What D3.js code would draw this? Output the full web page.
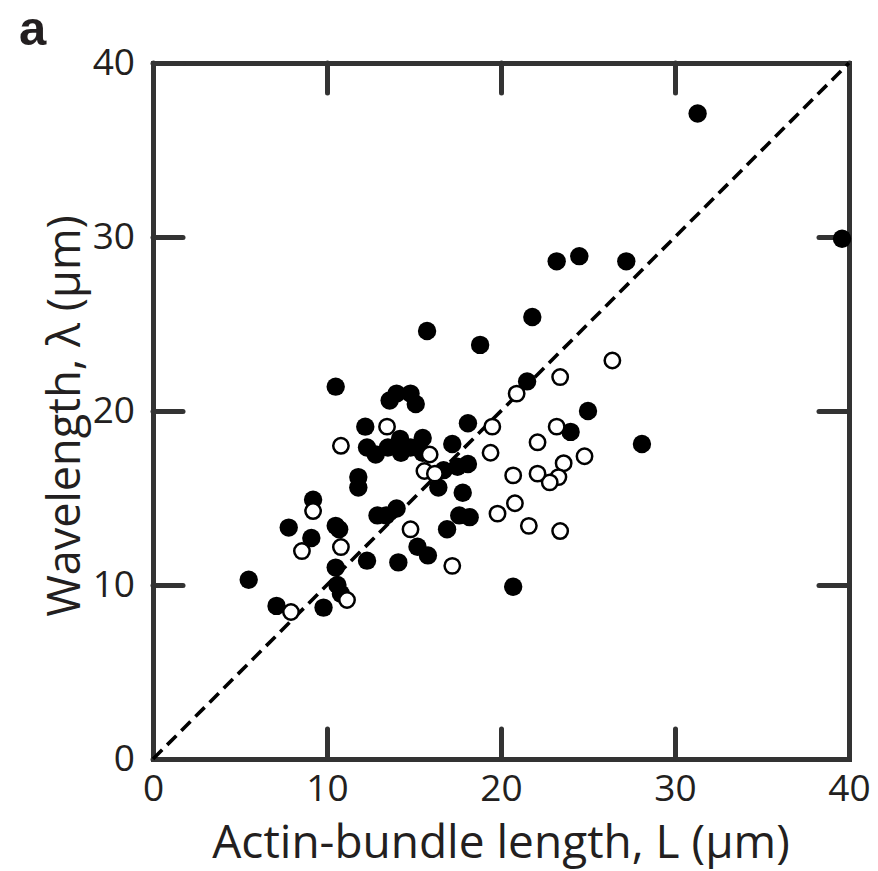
<!DOCTYPE html>
<html>
<head>
<meta charset="utf-8">
<script src="https://cdn.jsdelivr.net/npm/d3@7"></script>
<style>
  html, body { margin: 0; padding: 0; background: #fff; }
  svg { display: block; }
</style>
</head>
<body>
<div id="chart"></div>
<script>
// ---- Data ----
const panelLabel = "a";
const xTitle = "Actin-bundle length, L (μm)";
const yTitle = "Wavelength, λ (μm)";
const axisDomain = [0, 40];
const tickValues = [0, 10, 20, 30, 40];

// filled markers: [L, lambda]
const filledL = [5.5, 7.1, 7.8, 9.1, 9.2, 9.8, 10.5, 10.7, 10.5, 10.6, 10.8, 11.8, 11.8, 12.3, 14.1,
  10.5, 13.6, 14.0, 14.8, 15.1, 12.2, 12.3, 12.8, 13.5, 14.2, 14.25, 14.8, 15.5, 15.5,
  17.2, 18.1, 16.7, 17.5, 18.1, 16.4, 17.8, 12.9, 13.4, 14.0, 16.9, 15.2, 15.8, 17.6, 18.2,
  20.7, 15.75, 18.8, 21.8, 21.5, 23.2, 24.5, 27.2, 31.3, 39.6, 25.0, 24.0, 28.1];
const filledLambda = [10.3, 8.8, 13.3, 12.7, 14.9, 8.7, 13.4, 13.2, 11.0, 10.0, 9.5, 16.2, 15.6, 11.4, 11.3,
  21.4, 20.6, 21.0, 21.0, 20.4, 19.1, 17.9, 17.5, 17.9, 18.4, 17.6, 17.9, 18.45, 17.6,
  18.1, 19.3, 16.6, 16.8, 16.95, 15.6, 15.3, 14.0, 14.0, 14.4, 13.2, 12.2, 11.7, 14.0, 13.9,
  9.9, 24.6, 23.8, 25.4, 21.7, 28.6, 28.9, 28.6, 37.1, 29.9, 20.0, 18.8, 18.1];

// open markers: [L, lambda]
const openL = [7.93, 11.15, 8.56, 9.2, 10.8, 10.8, 13.45, 15.9, 15.6, 16.2, 14.8, 17.2,
  19.5, 19.4, 19.8, 20.9, 23.4, 26.4, 23.2, 22.1, 24.8, 23.6, 23.3, 22.8, 22.1, 20.7, 20.8, 21.6, 23.4];
const openLambda = [8.45, 9.14, 11.95, 14.25, 12.18, 18.0, 19.1, 17.5, 16.55, 16.4, 13.2, 11.1,
  19.1, 17.6, 14.1, 21.0, 21.95, 22.9, 19.1, 18.2, 17.4, 17.0, 16.2, 15.9, 16.4, 16.3, 14.7, 13.4, 13.1];

// ---- Drawing ----
const W = 878, H = 871;
const svg = d3.select("#chart").append("svg").attr("width", W).attr("height", H);

const x = d3.scaleLinear().domain(axisDomain).range([153, 849]);
const y = d3.scaleLinear().domain(axisDomain).range([759, 63]);

const axisColor = "#333333";
const textColor = "#231f20";
const tickFont = "'Open Sans', 'Noto Sans', sans-serif";

function styleAxis(g) {
  g.select(".domain").attr("stroke", axisColor).attr("stroke-width", 5);
  g.selectAll(".tick line").attr("stroke", axisColor).attr("stroke-width", 5).attr("stroke-linecap", "round");
  g.selectAll(".tick text").attr("fill", textColor).style("font-family", tickFont).style("font-size", "37px");
}

const inner = -30;
svg.append("g").attr("transform", `translate(0,${y(0)})`)
  .call(d3.axisBottom(x).tickValues(tickValues).tickSizeInner(inner).tickSizeOuter(0).tickPadding(16))
  .call(styleAxis);
svg.append("g").attr("transform", `translate(0,${y(40)})`)
  .call(d3.axisTop(x).tickValues(tickValues).tickSizeInner(inner).tickSizeOuter(0).tickFormat(""))
  .call(styleAxis);
svg.append("g").attr("transform", `translate(${x(0)},0)`)
  .call(d3.axisLeft(y).tickValues(tickValues).tickSizeInner(inner).tickSizeOuter(0).tickPadding(18))
  .call(styleAxis);
svg.append("g").attr("transform", `translate(${x(40)},0)`)
  .call(d3.axisRight(y).tickValues(tickValues).tickSizeInner(inner).tickSizeOuter(0).tickFormat(""))
  .call(styleAxis);
svg.selectAll(".domain").attr("stroke-linecap", "square");

// identity line
svg.append("line")
  .attr("x1", x(0)).attr("y1", y(0)).attr("x2", x(40)).attr("y2", y(40))
  .attr("stroke", "#000").attr("stroke-width", 3.6).attr("stroke-dasharray", "13,7");

const filled = filledL.map((d, i) => [d, filledLambda[i]]);
const open = openL.map((d, i) => [d, openLambda[i]]);

svg.append("g").selectAll("circle").data(filled).join("circle")
  .attr("cx", d => x(d[0])).attr("cy", d => y(d[1])).attr("r", 9.2).attr("fill", "#000");

svg.append("g").selectAll("circle").data(open).join("circle")
  .attr("cx", d => x(d[0])).attr("cy", d => y(d[1])).attr("r", 7.7)
  .attr("fill", "#fff").attr("stroke", "#000").attr("stroke-width", 2.5);

// titles
svg.append("text").attr("x", 501).attr("y", 858).attr("text-anchor", "middle")
  .attr("fill", textColor).style("font-family", tickFont).style("font-size", "46px")
  .text(xTitle);
svg.append("text").attr("transform", `translate(80,416) rotate(-90)`).attr("text-anchor", "middle")
  .attr("fill", textColor).style("font-family", tickFont).style("font-size", "45px")
  .text(yTitle);

svg.append("text").attr("x", 19).attr("y", 45)
  .attr("fill", textColor).style("font-family", "'Liberation Sans', Arial, sans-serif")
  .style("font-weight", "bold").style("font-size", "49px").text(panelLabel);
</script>
</body>
</html>
